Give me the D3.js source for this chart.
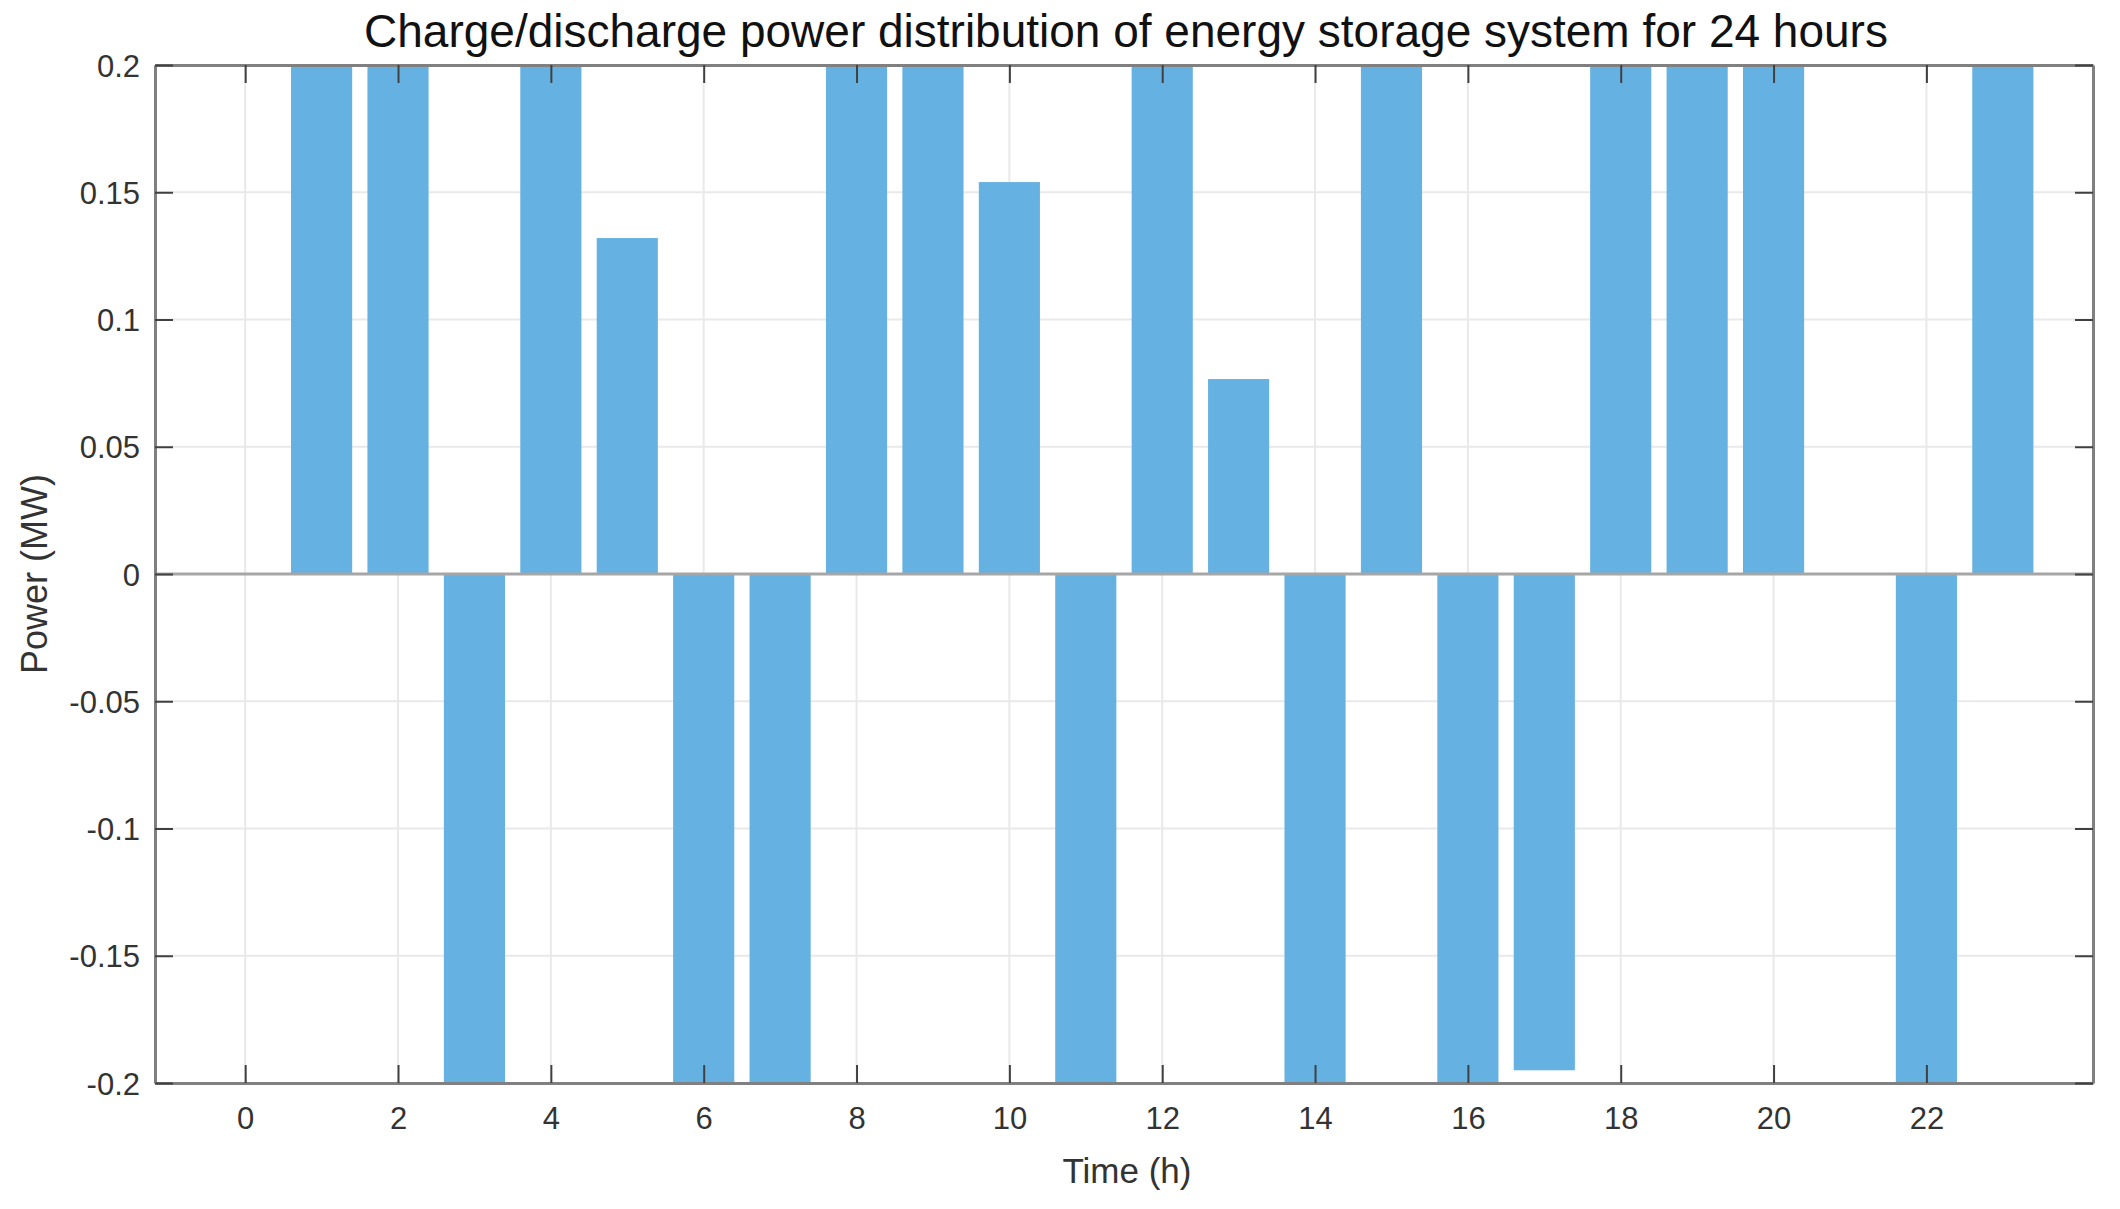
<!DOCTYPE html>
<html>
<head>
<meta charset="utf-8">
<script src="https://cdn.jsdelivr.net/npm/d3@7/dist/d3.min.js"></script>
<style>
  body { margin: 0; background: #fff; }
  text { font-family: "Liberation Sans", Arial, sans-serif; }
</style>
</head>
<body>
<div id="canvas"></div>
<script>
// Datos: potencia de carga/descarga por hora
const hours = d3.range(0, 24);
const power = [0, 0.2, 0.2, -0.2, 0.2, 0.132, -0.2, -0.2, 0.2, 0.2, 0.154, -0.2,
               0.2, 0.0766, -0.2, 0.2, -0.2, -0.195, 0.2, 0.2, 0.2, 0, -0.2, 0.2];
const xTicks = d3.range(0, 23, 2);
const yTicks = [0.2, 0.15, 0.1, 0.05, 0, -0.05, -0.1, -0.15, -0.2];

const width = 2120;
const height = 1209;
const margin = {top: 65, left: 155, bottom: 126, right: 27};
const iwidth = width - margin.left - margin.right;
const iheight = height - margin.top - margin.bottom;

const svg = d3.select("#canvas").append("svg")
    .attr("width", width)
    .attr("height", height);

const g = svg.append("g").attr("transform", `translate(${margin.left}, ${margin.top})`);

// Escalas
const x = d3.scaleLinear().domain([-1.18, 24.18]).range([0, iwidth]);
const y = d3.scaleLinear().domain([-0.2, 0.2]).range([iheight, 0]);

// Grilla
g.append("g").selectAll("line").data(xTicks).enter().append("line")
    .attr("x1", d => x(d)).attr("x2", d => x(d))
    .attr("y1", 0).attr("y2", iheight)
    .attr("stroke", "#e9e9e9").attr("stroke-width", 2);
g.append("g").selectAll("line").data(yTicks).enter().append("line")
    .attr("x1", 0).attr("x2", iwidth)
    .attr("y1", d => y(d)).attr("y2", d => y(d))
    .attr("stroke", "#e9e9e9").attr("stroke-width", 2);

// Barras
const barW = x(0.8) - x(0);
g.selectAll("rect.bar").data(hours).enter().append("rect")
    .attr("class", "bar")
    .attr("fill", "#65b1e1")
    .attr("x", d => x(d) - barW / 2)
    .attr("y", (d, i) => y(Math.max(0, power[i])))
    .attr("width", barW)
    .attr("height", (d, i) => Math.abs(y(power[i]) - y(0)));

// Linea base en cero
g.append("line")
    .attr("x1", 0).attr("x2", iwidth)
    .attr("y1", y(0)).attr("y2", y(0))
    .attr("stroke", "#a6a6a6").attr("stroke-width", 3);

// Ejes
const tickLen = 18;
const fmt = d => String(+d.toFixed(2));
const axisB = g.append("g").attr("transform", `translate(0, ${iheight})`)
    .call(d3.axisBottom(x).tickValues(xTicks).tickSizeInner(-tickLen).tickSizeOuter(0).tickPadding(24));
const axisT = g.append("g")
    .call(d3.axisTop(x).tickValues(xTicks).tickSizeInner(-tickLen).tickSizeOuter(0).tickFormat(""));
const axisL = g.append("g")
    .call(d3.axisLeft(y).tickValues(yTicks).tickSizeInner(-tickLen).tickSizeOuter(0).tickPadding(15).tickFormat(fmt));
const axisR = g.append("g").attr("transform", `translate(${iwidth}, 0)`)
    .call(d3.axisRight(y).tickValues(yTicks).tickSizeInner(-tickLen).tickSizeOuter(0).tickFormat(""));

[axisB, axisT, axisL, axisR].forEach(a => {
    a.select(".domain").attr("stroke", "#808080").attr("stroke-width", 3);
    a.selectAll(".tick line").attr("stroke", "#404040").attr("stroke-width", 2);
    a.selectAll(".tick text")
        .attr("fill", "#333")
        .style("font-size", "31px")
        .style("font-family", "'Liberation Sans', Arial, sans-serif");
});
axisL.selectAll(".tick text").attr("dy", "0.36em");

// Titulo
svg.append("text")
    .attr("text-anchor", "middle")
    .attr("x", 1126)
    .attr("y", 47)
    .attr("fill", "#111")
    .style("font-size", "46px")
    .text("Charge/discharge power distribution of energy storage system for 24 hours");

// Etiqueta eje x
svg.append("text")
    .attr("text-anchor", "middle")
    .attr("x", 1127)
    .attr("y", 1183)
    .attr("fill", "#333")
    .style("font-size", "35px")
    .text("Time (h)");

// Etiqueta eje y
svg.append("text")
    .attr("text-anchor", "middle")
    .attr("transform", "translate(47, 574) rotate(-90)")
    .attr("fill", "#333")
    .style("font-size", "36px")
    .text("Power (MW)");
</script>
</body>
</html>
